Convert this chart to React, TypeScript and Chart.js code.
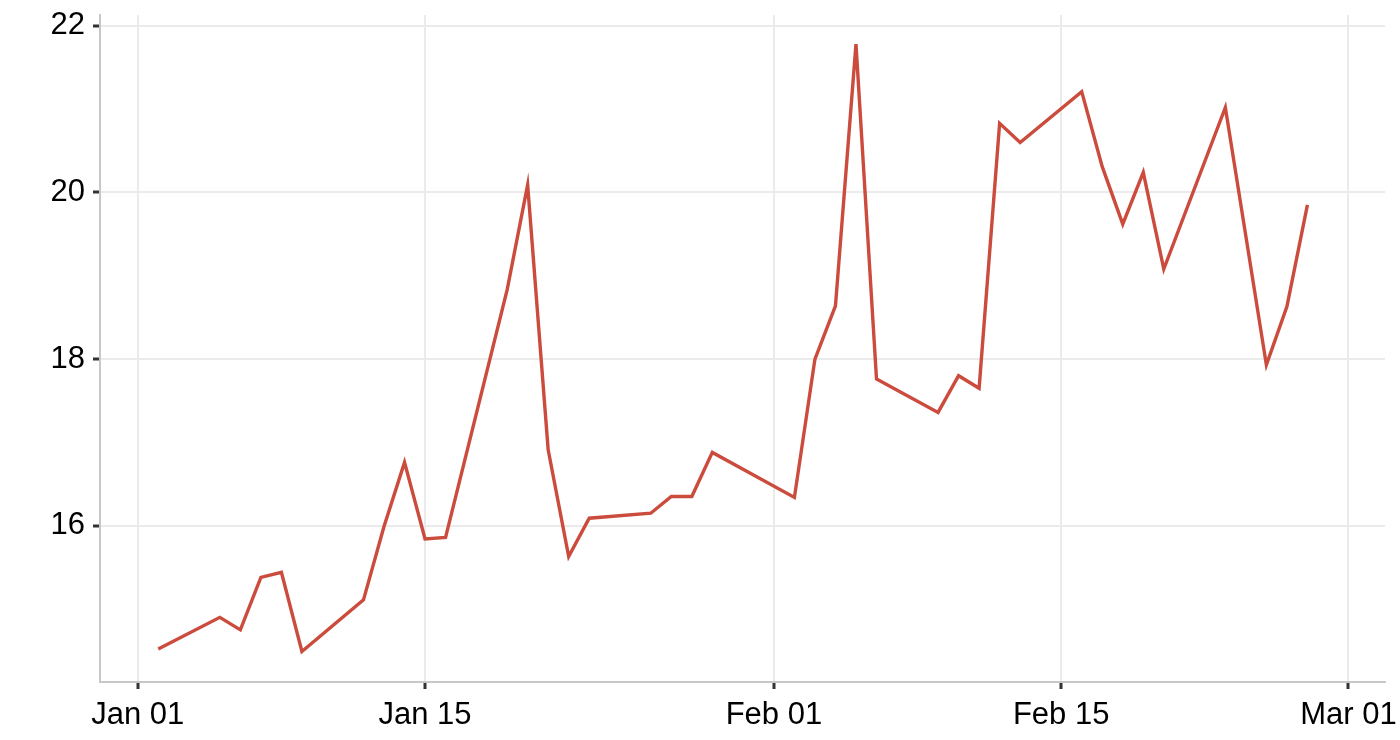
import React, { useRef, useEffect } from 'react';
import { Chart, registerables } from 'chart.js';

Chart.register(...registerables);

// trading days (2015) and their values
const dates: string[] = [
    '2015-01-02', '2015-01-05', '2015-01-06', '2015-01-07', '2015-01-08', '2015-01-09',
    '2015-01-12', '2015-01-13', '2015-01-14', '2015-01-15', '2015-01-16',
    '2015-01-19', '2015-01-20', '2015-01-21', '2015-01-22', '2015-01-23',
    '2015-01-26', '2015-01-27', '2015-01-28', '2015-01-29',
    '2015-02-02', '2015-02-03', '2015-02-04', '2015-02-05', '2015-02-06',
    '2015-02-09', '2015-02-10', '2015-02-11', '2015-02-12', '2015-02-13',
    '2015-02-16', '2015-02-17', '2015-02-18', '2015-02-19', '2015-02-20',
    '2015-02-23', '2015-02-25', '2015-02-26', '2015-02-27',
];
const values: number[] = [
    14.52, 14.90, 14.75, 15.38, 15.44, 14.49,
    15.11, 15.99, 16.76, 15.84, 15.86,
    18.83, 20.09, 16.91, 15.63, 16.09,
    16.15, 16.35, 16.35, 16.88,
    16.34, 18.00, 18.64, 21.78, 17.76,
    17.36, 17.80, 17.65, 20.83, 20.60,
    21.21, 20.31, 19.62, 20.24, 19.08,
    21.02, 17.93, 18.63, 19.85,
];
const xTickDates: string[] = ['2015-01-01', '2015-01-15', '2015-02-01', '2015-02-15', '2015-03-01'];
const xTickLabels: string[] = ['Jan 01', 'Jan 15', 'Feb 01', 'Feb 15', 'Mar 01'];
const yTicks: number[] = [16, 18, 20, 22];

const DAY = 86400000;
const origin = Date.UTC(2015, 0, 1);
const toDay = (s: string) => {
    const [y, m, d] = s.split('-').map(Number);
    return (Date.UTC(y, m - 1, d) - origin) / DAY;
};

const fontFamily = '"Liberation Sans", Arial, Helvetica, sans-serif';

export default function App() {
    const canvasRef = useRef<HTMLCanvasElement>(null);

    useEffect(() => {
        document.body.style.margin = '0';
        if (!canvasRef.current) return;
        const ctx = canvasRef.current.getContext('2d');
        if (!ctx) return;

        const tickDays = xTickDates.map(toDay);

        const chart = new Chart(ctx, {
            type: 'line',
            data: {
                datasets: [{
                    data: dates.map((d, i) => ({ x: toDay(d), y: values[i] })),
                    borderColor: '#cb4b3d',
                    borderWidth: 3.4,
                    borderJoinStyle: 'miter',
                    pointRadius: 0,
                    tension: 0,
                    fill: false,
                }]
            },
            options: {
                animation: false,
                responsive: true,
                maintainAspectRatio: false,
                layout: { padding: { top: 15, right: 15, left: 0, bottom: 0 } },
                plugins: { legend: { display: false }, tooltip: { enabled: false } },
                scales: {
                    x: {
                        type: 'linear',
                        min: -1.84,
                        max: 60.78,
                        afterBuildTicks: (scale: any) => {
                            scale.ticks = tickDays.map(v => ({ value: v }));
                        },
                        afterFit: (scale: any) => {
                            scale.height = 58;
                            scale.paddingLeft = 0;
                            scale.paddingRight = 0;
                        },
                        ticks: {
                            autoSkip: false,
                            maxRotation: 0,
                            padding: 8,
                            color: '#000000',
                            font: { family: fontFamily, size: 31 },
                            callback: (v: any) => {
                                const i = tickDays.indexOf(Number(v));
                                return i >= 0 ? xTickLabels[i] : '';
                            },
                        },
                        grid: {
                            color: '#ebebeb',
                            lineWidth: 2,
                            tickColor: '#333333',
                            tickLength: 7,
                            tickWidth: 3,
                        },
                        border: { color: '#c8c8c8', width: 2 },
                    },
                    y: {
                        type: 'linear',
                        min: 14.124,
                        max: 22.13,
                        afterBuildTicks: (scale: any) => {
                            scale.ticks = yTicks.map(v => ({ value: v }));
                        },
                        afterFit: (scale: any) => {
                            scale.width = 100;
                            scale.paddingTop = 0;
                            scale.paddingBottom = 0;
                        },
                        ticks: {
                            padding: 8,
                            color: '#000000',
                            font: { family: fontFamily, size: 31 },
                            callback: (v: any) => String(v),
                        },
                        grid: {
                            color: '#ebebeb',
                            lineWidth: 2,
                            tickColor: '#333333',
                            tickLength: 7,
                            tickWidth: 3,
                        },
                        border: { color: '#c8c8c8', width: 2 },
                    },
                },
            },
        });

        return () => {
            chart.destroy();
        };
    }, []);

    return (
        <div style={{ position: 'absolute', left: 0, top: 0, width: 1400, height: 740 }}>
            <canvas ref={canvasRef}></canvas>
        </div>
    );
}
